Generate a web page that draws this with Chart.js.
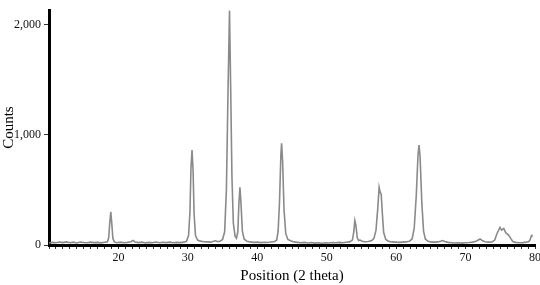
<!DOCTYPE html>
<html>
<head>
<meta charset="utf-8">
<script src="https://cdn.jsdelivr.net/npm/chart.js@4.4.0/dist/chart.umd.min.js"></script>
<style>
  html, body { margin: 0; padding: 0; background: #fff; }
  #wrap { width: 540px; height: 285px; }
</style>
</head>
<body>
<div id="wrap"><canvas id="xrdChart" width="540" height="285"></canvas></div>
<script>
const twoTheta = [
  10, 10.5, 11, 11.5, 12, 12.5, 13, 13.5, 14, 14.5, 15, 15.5, 16, 16.5, 17, 17.5, 18, 18.4,
  18.6, 18.75, 18.9, 19.05, 19.2, 19.4,
  19.8, 20.3, 20.8, 21.3, 21.8, 22.1, 22.4, 22.9, 23.4, 23.9, 24.4, 24.9, 25.4, 25.9, 26.4, 26.9,
  27.4, 27.9, 28.4, 28.9, 29.4, 29.8, 30.1,
  30.3, 30.45, 30.6, 30.75, 30.9, 31.1, 31.4, 31.8, 32.3, 32.8, 33.3, 33.7, 34.0, 34.3, 34.7, 35.0, 35.3,
  35.55, 35.8, 36.0, 36.15, 36.35, 36.55, 36.8, 37.0, 37.2, 37.35, 37.5, 37.65, 37.85, 38.1, 38.5,
  39, 39.5, 40, 40.5, 41, 41.5, 42, 42.5, 42.8, 43.0,
  43.2, 43.4, 43.5, 43.65, 43.85, 44.1, 44.4, 44.9, 45.3, 45.8, 46.3, 46.8, 47.3, 47.8, 48.3, 48.8,
  49.3, 49.8, 50.3, 50.8, 51.3, 51.8, 52.3, 52.8, 53.3, 53.7,
  53.9, 54.05, 54.2, 54.4, 54.6, 54.8, 55.1, 55.5, 56, 56.5, 56.8, 57.1, 57.35, 57.55, 57.7, 57.85,
  58.0, 58.2, 58.5, 58.9, 59.4, 59.9, 60.4, 60.9, 61.4, 61.9, 62.3, 62.6,
  62.9, 63.15, 63.3, 63.45, 63.7, 63.95, 64.2, 64.6, 65, 65.5, 66, 66.4, 66.7, 67, 67.5, 68, 68.5,
  69, 69.5, 70, 70.5, 71, 71.5, 71.9, 72.1, 72.4, 72.8, 73.3, 73.8, 74.2, 74.5, 74.95, 75.2, 75.5,
  75.8, 76.2, 76.5, 76.8, 77.2, 77.7, 78.2, 78.7, 79.1, 79.3, 79.45, 79.55
];
const counts = [
  18, 24, 20, 27, 22, 28, 21, 26, 19, 27, 23, 20, 26, 22, 24, 19, 25, 28,
  65, 200, 302, 190, 60, 28,
  21, 26, 20, 24, 30, 42, 28, 22, 26, 19, 24, 21, 27, 20, 25, 22,
  26, 21, 24, 22, 26, 34, 85,
  300, 700, 862, 680, 280, 85, 45, 35, 30, 28, 26, 34, 38, 30, 36, 50, 120,
  500, 1450, 2130, 1500, 620, 200, 80, 62, 120, 380, 524, 380, 125, 55, 34,
  28, 24, 26, 22, 25, 23, 28, 32, 46, 125,
  390, 820, 924, 760, 320, 105, 50, 36, 28, 24, 20, 24, 18, 22, 17, 21,
  16, 20, 18, 22, 20, 24, 21, 25, 28, 45,
  120, 222, 180, 65, 40, 45, 34, 30, 32, 40, 60, 135, 330, 524, 480, 460,
  300, 115, 50, 34, 28, 26, 24, 26, 28, 34, 55, 150,
  450, 820, 907, 800, 380, 125, 55, 34, 28, 26, 28, 34, 40, 32, 24, 21, 18,
  20, 17, 21, 23, 26, 34, 48, 55, 40, 30, 26, 28, 45, 100, 160, 135, 150,
  110, 90, 60, 32, 24, 21, 22, 26, 30, 48, 80, 95
];
const yTicks = [0, 1000, 2000];
const xLabels = [20, 30, 40, 50, 60, 70, 80];

const serif = '"Liberation Serif", "DejaVu Serif", serif';

document.addEventListener('DOMContentLoaded', function() {
    const ctx = document.getElementById('xrdChart');
    new Chart(ctx.getContext('2d'), {
        type: 'line',
        data: {
            datasets: [{
                label: 'Counts',
                data: twoTheta.map((x, i) => ({ x: x, y: counts[i] })),
                borderColor: '#8a8a8a',
                borderWidth: 1.6,
                pointRadius: 0,
                tension: 0,
                fill: false
            }]
        },
        options: {
            responsive: false,
            animation: false,
            layout: { padding: { top: 5, right: 5, left: 0, bottom: 0 } },
            plugins: {
                legend: { display: false },
                tooltip: { enabled: false }
            },
            scales: {
                x: {
                    type: 'linear',
                    min: 10,
                    max: 80,
                    afterFit: function(scale) {
                        scale.height = 40;
                        scale.paddingRight = 0;
                    },
                    ticks: {
                        stepSize: 1,
                        autoSkip: false,
                        maxRotation: 0,
                        padding: 2,
                        color: '#111',
                        font: { family: serif, size: 12 },
                        callback: function(value) {
                            return xLabels.includes(value) ? String(value) : '';
                        }
                    },
                    grid: {
                        drawOnChartArea: false,
                        drawTicks: true,
                        tickLength: 4,
                        color: '#333',
                        lineWidth: 1
                    },
                    border: { color: '#000', width: 3 },
                    title: {
                        display: true,
                        text: 'Position (2 theta)',
                        color: '#000',
                        font: { family: serif, size: 15 },
                        padding: { top: 0, bottom: 0 }
                    }
                },
                y: {
                    min: 0,
                    max: 2133,
                    afterFit: function(scale) { scale.width = 49; },
                    afterBuildTicks: function(scale) {
                        scale.ticks = yTicks.map(v => ({ value: v }));
                    },
                    ticks: {
                        padding: 3,
                        color: '#111',
                        font: { family: serif, size: 12 },
                        callback: function(value) {
                            return value.toLocaleString('en-US');
                        }
                    },
                    grid: {
                        drawOnChartArea: false,
                        drawTicks: true,
                        tickLength: 5,
                        color: '#333',
                        lineWidth: 1
                    },
                    border: { color: '#000', width: 3 },
                    title: {
                        display: true,
                        text: 'Counts',
                        color: '#000',
                        font: { family: serif, size: 15 },
                        padding: { top: 0, bottom: 0 }
                    }
                }
            }
        }
    });
});
</script>
</body>
</html>
